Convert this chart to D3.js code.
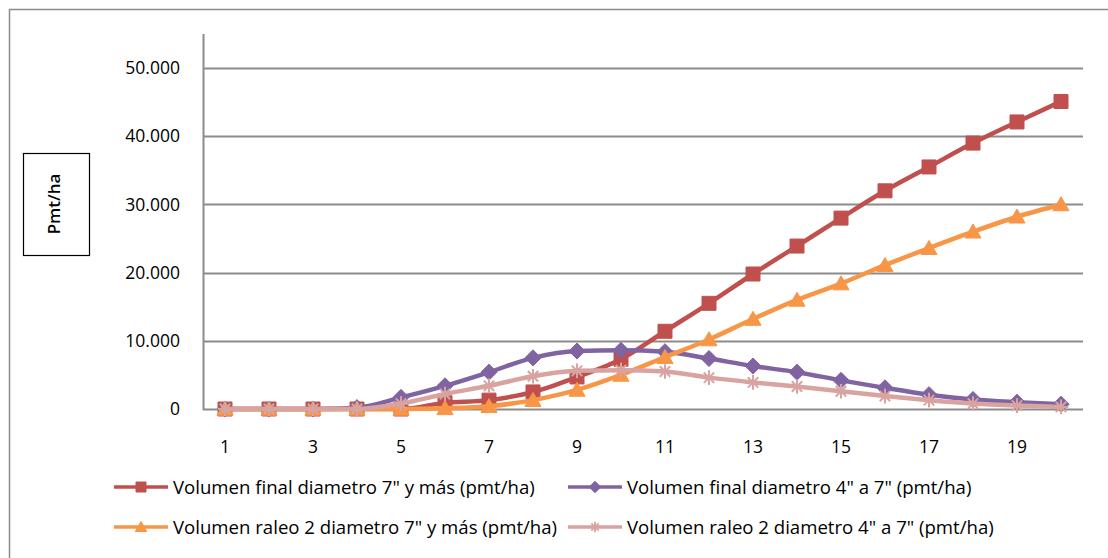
<!DOCTYPE html>
<html>
<head>
<meta charset="utf-8">
<script src="https://cdn.jsdelivr.net/npm/d3@7"></script>
<style>
  body { margin: 0; background: #fff; }
  text { font-family: "Open Sans", "Liberation Sans", sans-serif; fill: #000; }
</style>
</head>
<body>
<div id="chart"></div>
<script>
// data
var years = d3.range(1, 21);
var tickYears = [1, 3, 5, 7, 9, 11, 13, 15, 17, 19];
var yTicks = [0, 10000, 20000, 30000, 40000, 50000];

var finalGrueso = [0, 0, 0, 0, 0, 900, 1300, 2500, 4700, 7300, 11400, 15500, 19800, 23900, 28000, 32000, 35500, 39000, 42100, 45100];
var finalDelgado = [0, 0, 0, 200, 1700, 3400, 5400, 7500, 8500, 8600, 8400, 7400, 6300, 5400, 4200, 3100, 2100, 1400, 1000, 700];
var raleoGrueso = [0, 0, 0, 0, 0, 100, 400, 1300, 2800, 5000, 7600, 10200, 13200, 16000, 18400, 21100, 23600, 26000, 28200, 30000];
var raleoDelgado = [0, 0, 0, 0, 800, 2200, 3400, 4800, 5600, 5700, 5500, 4600, 3900, 3300, 2600, 1900, 1300, 800, 500, 300];

var seriesNames = [
  'Volumen final diametro 7" y más (pmt/ha)',
  'Volumen final diametro 4" a 7" (pmt/ha)',
  'Volumen raleo 2 diametro 7" y más (pmt/ha)',
  'Volumen raleo 2 diametro 4" a 7" (pmt/ha)'
];

var series = [
  {name: seriesNames[0], values: finalGrueso, color: "#C0504D", marker: "square"},
  {name: seriesNames[1], values: finalDelgado, color: "#8064A2", marker: "diamond"},
  {name: seriesNames[2], values: raleoGrueso, color: "#F79646", marker: "triangle"},
  {name: seriesNames[3], values: raleoDelgado, color: "#D9A3A0", marker: "star"}
];

var W = 1108, H = 558;
var svg = d3.select("#chart").append("svg")
    .attr("width", W)
    .attr("height", H);

// outer chart border (right and bottom run off the picture)
svg.append("rect")
  .attr("x", 9.5).attr("y", 9.5)
  .attr("width", 1200).attr("height", 600)
  .attr("fill", "none")
  .attr("stroke", "#8c8c8c")
  .attr("stroke-width", 1.5);

var x = d3.scaleBand()
  .domain(years)
  .range([203, 1083]);

var y = d3.scaleLinear()
  .domain([0, 55000])
  .range([409, 34]);

// gridlines
svg.append("g")
  .selectAll("line")
  .data(yTicks)
  .enter()
  .append("line")
    .attr("x1", 203).attr("x2", 1083)
    .attr("y1", function(d) { return Math.round(y(d)) + 0.5; })
    .attr("y2", function(d) { return Math.round(y(d)) + 0.5; })
    .attr("stroke", "#8c8c8c")
    .attr("stroke-width", 2);

// y axis line
svg.append("line")
  .attr("x1", 203.5).attr("x2", 203.5)
  .attr("y1", 34).attr("y2", 410)
  .attr("stroke", "#8c8c8c")
  .attr("stroke-width", 2);

// y tick labels
var fmt = function(d) { return d3.format(",")(d).replace(/,/g, "."); };
svg.append("g")
  .selectAll("text")
  .data(yTicks)
  .enter()
  .append("text")
    .attr("x", 180)
    .attr("y", function(d) { return y(d); })
    .attr("dy", "0.35em")
    .attr("text-anchor", "end")
    .style("font-size", "17.5px")
    .text(fmt);

// x tick labels
svg.append("g")
  .selectAll("text")
  .data(tickYears)
  .enter()
  .append("text")
    .attr("x", function(d) { return x(d) + x.bandwidth() / 2; })
    .attr("y", 447)
    .attr("dy", "0.35em")
    .attr("text-anchor", "middle")
    .style("font-size", "17.5px")
    .text(function(d) { return d; });

// y label in its box
svg.append("rect")
  .attr("x", 23.5).attr("y", 153.5)
  .attr("width", 66).attr("height", 102)
  .attr("fill", "#fff")
  .attr("stroke", "#000")
  .attr("stroke-width", 1.2);
svg.append("text")
  .attr("transform", "translate(54,204) rotate(-90)")
  .attr("text-anchor", "middle")
  .attr("dy", "0.35em")
  .style("font-size", "17px")
  .style("font-weight", "600")
  .text("Pmt/ha");

function markerPath(type, s) {
  var h = s / 2;
  if (type === "square") return "M" + (-h) + "," + (-h) + "h" + s + "v" + s + "h" + (-s) + "Z";
  if (type === "diamond") return "M0," + (-h * 1.15) + "L" + (h * 1.15) + ",0L0," + (h * 1.15) + "L" + (-h * 1.15) + ",0Z";
  if (type === "triangle") return "M0," + (-h * 1.1) + "L" + (h * 1.15) + "," + (h * 0.9) + "L" + (-h * 1.15) + "," + (h * 0.9) + "Z";
  // star: asterisk of strokes
  var r = h * 1.05, d = "";
  [0, 45, 90, 135].forEach(function(a) {
    var rad = a * Math.PI / 180, cx = Math.cos(rad) * r, cy = Math.sin(rad) * r;
    d += "M" + (-cx) + "," + (-cy) + "L" + cx + "," + cy;
  });
  return d;
}

var line = d3.line()
  .x(function(d, i) { return x(years[i]) + x.bandwidth() / 2; })
  .y(function(d) { return y(d); })
  .curve(d3.curveMonotoneX);

series.forEach(function(s) {
  var g = svg.append("g");
  g.append("path")
    .datum(s.values)
    .attr("d", line)
    .attr("fill", "none")
    .attr("stroke", s.color)
    .attr("stroke-width", 4.5)
    .attr("stroke-linejoin", "round");
  g.selectAll("path.mk")
    .data(s.values)
    .enter()
    .append("path")
      .attr("class", "mk")
      .attr("transform", function(d, i) { return "translate(" + (x(years[i]) + x.bandwidth() / 2) + "," + y(d) + ")"; })
      .attr("d", markerPath(s.marker, 14))
      .attr("fill", s.marker === "star" ? "none" : s.color)
      .attr("stroke", s.color)
      .attr("stroke-width", s.marker === "star" ? 2 : 1);
});

// legend
var legendPos = [[114, 487], [568, 487], [114, 527], [568, 527]];
series.forEach(function(s, i) {
  var lx = legendPos[i][0], ly = legendPos[i][1];
  var g = svg.append("g").attr("transform", "translate(" + lx + "," + ly + ")");
  g.append("line")
    .attr("x1", 0).attr("x2", 54)
    .attr("y1", 0).attr("y2", 0)
    .attr("stroke", s.color)
    .attr("stroke-width", 3.5);
  g.append("path")
    .attr("transform", "translate(27,0)")
    .attr("d", markerPath(s.marker, 10))
    .attr("fill", s.marker === "star" ? "none" : s.color)
    .attr("stroke", s.color)
    .attr("stroke-width", s.marker === "star" ? 1.8 : 1);
  g.append("text")
    .attr("x", 59)
    .attr("y", 0)
    .attr("dy", "0.35em")
    .style("font-size", "18.6px")
    .text(s.name);
});
</script>
</body>
</html>
